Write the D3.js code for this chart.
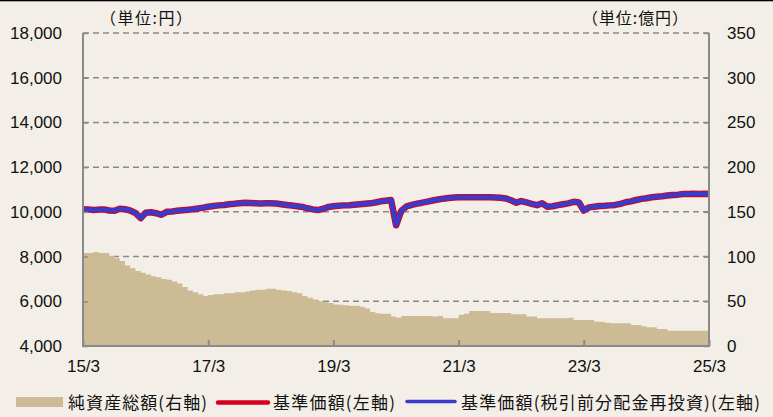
<!DOCTYPE html>
<html><head><meta charset="utf-8">
<script src="https://cdn.jsdelivr.net/npm/d3@7/dist/d3.min.js"></script>
<style>
html,body{margin:0;padding:0;background:#f3efe8;}
svg{display:block;}
</style></head>
<body>
<svg id="chart" width="773" height="417"></svg>
<script>
// ---- data (monthly, 2015/3 .. 2025/3) ----
const startMonth = "2015-03";
const endMonth = "2025-03";
const netAssets = [104,104,105,104,104,101,98,95,90,87,84,82,80,78,77,75,74,72,70,66,62,60,58,56,57,58,58,59,59,60,60,61,62,63,63,64,64,63,62,61.5,60,59,56,54,52,50,49,48,46.5,46,45.5,45,45,44,42,38,36.5,36,36,33,32,33.5,33.5,33.5,33.5,33.5,33.5,33,33.5,31,31,31,35,36,39,39,39,39,37,37,37,37,35.5,35.5,35.5,33,33,31,31,31,31,31,31,31.5,29,29,29,29,27,27,26,25.5,25.5,25.5,25.5,23.5,23.5,22,21,21,19,19,17,17,17,17,17,17,17,17,17];
const nav = [10120,10110,10080,10100,10110,10060,10050,10140,10120,10060,9950,9720,9960,9980,9940,9870,10000,10020,10050,10070,10090,10115,10150,10190,10230,10260,10290,10310,10340,10360,10390,10410,10400,10390,10370,10380,10380,10370,10340,10310,10280,10250,10220,10160,10110,10080,10140,10220,10250,10270,10290,10300,10320,10340,10360,10380,10420,10470,10500,10530,9400,10050,10240,10310,10370,10410,10460,10510,10550,10590,10620,10640,10650,10650,10655,10650,10655,10650,10650,10640,10630,10600,10520,10410,10480,10420,10360,10300,10380,10230,10250,10300,10340,10380,10450,10420,10060,10200,10230,10260,10270,10290,10310,10360,10430,10470,10530,10580,10610,10650,10680,10700,10730,10750,10770,10800,10800,10810,10800,10810,10800];
const navReinvested = nav.slice();
const leftTicks = [4000,6000,8000,10000,12000,14000,16000,18000];
const rightTicks = [0,50,100,150,200,250,300,350];
const xTickLabels = ["15/3","17/3","19/3","21/3","23/3","25/3"];
const legendLabels = ["純資産総額(右軸)","基準価額(左軸)","基準価額(税引前分配金再投資)(左軸)"];
const unitLeft = "（単位:円）";
const unitRight = "（単位:億円）";

// ---- layout ----
const svg = d3.select("#chart");
const W = 773, H = 417;
const L = 83, R = 709, T = 33, B = 346;
const parse = d3.timeParse("%Y-%m");
const months = d3.timeMonth.range(parse(startMonth), d3.timeMonth.offset(parse(endMonth), 1));

const x = d3.scaleTime().domain([parse(startMonth), parse(endMonth)]).range([L, R]);
const yL = d3.scaleLinear().domain([4000, 18000]).range([B, T]);
const yR = d3.scaleLinear().domain([0, 350]).range([B, T]);

svg.append("rect").attr("width", W).attr("height", H).attr("fill", "#f3efe8");
svg.append("rect").attr("x",0).attr("y",0).attr("width",W).attr("height",1.3).attr("fill","#000");

// gridlines
svg.append("g").selectAll("line").data(leftTicks.filter(d => d > 4000)).join("line")
  .attr("x1", L).attr("x2", R)
  .attr("y1", d => yL(d)).attr("y2", d => yL(d))
  .attr("stroke", "#8a8a8a").attr("stroke-width", 1.5).attr("stroke-dasharray", "6,4");

// area
const areaData = months.map((d, i) => ({d, v: netAssets[i]}));
svg.append("path").datum(areaData)
  .attr("fill", "#cdbb95")
  .attr("d", d3.area().x(p => x(p.d)).y0(B).y1(p => yR(p.v)).curve(d3.curveStepAfter));

// lines
const lineGen = d3.line().x(p => x(p.d)).y(p => yL(p.v));
svg.append("path").datum(months.map((d, i) => ({d, v: nav[i]})))
  .attr("fill", "none").attr("stroke", "#d5001e").attr("stroke-width", 6.5)
  .attr("stroke-linejoin", "round").attr("d", lineGen);
svg.append("path").datum(months.map((d, i) => ({d, v: navReinvested[i]})))
  .attr("fill", "none").attr("stroke", "#3a3acb").attr("stroke-width", 4.5)
  .attr("stroke-linejoin", "round").attr("d", lineGen);

// frame
svg.append("path").attr("fill", "none").attr("stroke", "#8a8a8a").attr("stroke-width", 2)
  .attr("d", `M${L},${T}V${B}H${R}V${T}`);

// axes
const numFont = "'Liberation Sans', Arial, sans-serif";
const xTickDates = xTickLabels.map(s => parse("20" + s.split("/")[0] + "-0" + s.split("/")[1]));
const xAxis = d3.axisBottom(x).tickValues(xTickDates).tickSize(-6).tickPadding(14)
  .tickFormat((d, i) => xTickLabels[i]);
const gx = svg.append("g").attr("transform", `translate(0,${B})`).call(xAxis);
gx.select(".domain").remove();
gx.selectAll(".tick line").attr("stroke", "#8a8a8a").attr("stroke-width", 2);
gx.selectAll("text").attr("font-family", numFont).attr("font-size", 17).attr("fill", "#111");

const yAxisL = d3.axisLeft(yL).tickValues(leftTicks).tickSize(-5).tickPadding(21)
  .tickFormat(d3.format(","));
const gl = svg.append("g").attr("transform", `translate(${L},0)`).call(yAxisL);
gl.select(".domain").remove();
gl.selectAll(".tick line").attr("stroke", "#8a8a8a").attr("stroke-width", 1.5);
gl.selectAll("text").attr("font-family", numFont).attr("font-size", 17).attr("fill", "#111");

const yAxisR = d3.axisRight(yR).tickValues(rightTicks).tickSize(-5).tickPadding(18);
const gr = svg.append("g").attr("transform", `translate(${R},0)`).call(yAxisR);
gr.select(".domain").remove();
gr.selectAll(".tick line").attr("stroke", "#8a8a8a").attr("stroke-width", 1.5);
gr.selectAll("text").attr("font-family", numFont).attr("font-size", 17).attr("fill", "#111");

// unit labels
const jpFont = "'Noto Sans CJK JP', sans-serif";
svg.append("text").attr("x", 100).attr("y", 24).attr("font-family", jpFont).attr("font-size", 16)
  .attr("fill", "#111").attr("textLength", 92).text(unitLeft);
svg.append("text").attr("x", 582).attr("y", 24).attr("font-family", jpFont).attr("font-size", 16)
  .attr("fill", "#111").attr("textLength", 106).text(unitRight);

// legend
const lg = svg.append("g");
lg.append("rect").attr("x", 16).attr("y", 397).attr("width", 47).attr("height", 10).attr("fill", "#cdbb95");
lg.append("text").attr("x", 68).attr("y", 409).attr("font-family", jpFont).attr("font-size", 17)
  .attr("fill", "#111").attr("textLength", 139).text(legendLabels[0]);
lg.append("line").attr("x1", 218).attr("x2", 268).attr("y1", 402.5).attr("y2", 402.5)
  .attr("stroke", "#d5001e").attr("stroke-width", 4.5).attr("stroke-linecap", "round");
lg.append("text").attr("x", 273).attr("y", 409).attr("font-family", jpFont).attr("font-size", 17)
  .attr("fill", "#111").attr("textLength", 122).text(legendLabels[1]);
lg.append("line").attr("x1", 407).attr("x2", 455).attr("y1", 401.5).attr("y2", 401.5)
  .attr("stroke", "#3a3acb").attr("stroke-width", 3.5).attr("stroke-linecap", "round");
lg.append("text").attr("x", 461).attr("y", 409).attr("font-family", jpFont).attr("font-size", 17)
  .attr("fill", "#111").attr("textLength", 299).text(legendLabels[2]);
</script>
</body></html>
